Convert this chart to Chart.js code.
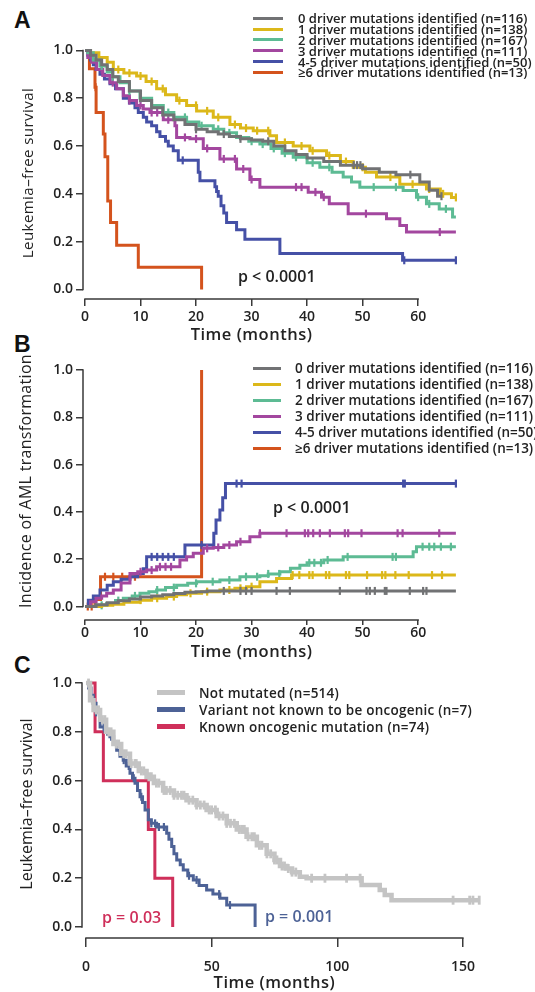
<!DOCTYPE html>
<html>
<head>
<meta charset="utf-8">
<script src="https://cdn.jsdelivr.net/npm/chart.js@4.4.1/dist/chart.umd.min.js"></script>
<style>
  body { margin: 0; background: #fff; width: 535px; height: 992px; position: relative; overflow: hidden; font-family: 'Open Sans', sans-serif; color: #222; }
  canvas { position: absolute; left: 0; }
  .tag { position: absolute; font: bold 23px 'Liberation Sans', Arial, sans-serif; color: #111; }
  .legend { position: absolute; font-weight: 600; color: #222; }
  .legend .row { display: flex; align-items: center; white-space: nowrap; }
  .legend .sw { display: inline-block; flex: none; }
  .pval { position: absolute; font-size: 16px; font-weight: 600; white-space: nowrap; line-height: 16px; }
  .xt { position: absolute; transform: translate(-50%, -50%); font-size: 16.5px; font-weight: 600; letter-spacing: 0.5px; white-space: nowrap; line-height: 20px; }
  .yt { position: absolute; transform: translate(-50%, -50%) rotate(-90deg); font-weight: 400; white-space: nowrap; line-height: 20px; }
</style>
</head>
<body>
<div class="tag" style="left:14px;top:7px">A</div>
<div class="tag" style="left:14px;top:331px">B</div>
<div class="tag" style="left:14px;top:652px">C</div>

<canvas id="chartA" width="535" height="345" style="top:0px"></canvas>
<canvas id="chartB" width="535" height="322" style="top:340px"></canvas>
<canvas id="chartC" width="535" height="332" style="top:660px"></canvas>

<div class="yt" style="left:27px;top:173px;font-size:15px;letter-spacing:0.45px">Leukemia&ndash;free survival</div>
<div class="yt" style="left:25px;top:481px;font-size:16px;letter-spacing:0.3px">Incidence of AML transformation</div>
<div class="yt" style="left:26px;top:804px;font-size:16px">Leukemia&ndash;free survival</div>

<div class="xt" id="xtA" style="top:334px">Time (months)</div>
<div class="xt" id="xtB" style="top:651px">Time (months)</div>
<div class="xt" id="xtC" style="top:982px">Time (months)</div>

<div class="legend" id="legA" style="left:253px;top:13px;font-size:13px"></div>
<div class="legend" id="legB" style="left:253px;top:360px;font-size:13.5px"></div>
<div class="legend" id="legC" style="left:157px;top:684px;font-size:13.5px;letter-spacing:0.25px"></div>

<div class="pval" style="left:238px;top:268px">p &lt; 0.0001</div>
<div class="pval" style="left:273px;top:499px">p &lt; 0.0001</div>
<div class="pval" style="left:102px;top:909px;color:#cf2f5a">p = 0.03</div>
<div class="pval" style="left:265px;top:908px;color:#4d6296">p = 0.001</div>

<script>
// ---- data ----
const driverLabels = [
  '0 driver mutations identified (n=116)',
  '1 driver mutations identified (n=138)',
  '2 driver mutations identified (n=167)',
  '3 driver mutations identified (n=111)',
  '4-5 driver mutations identified (n=50)',
  '\u22656 driver mutations identified (n=13)'
]
const driverColors = ['#717274', '#dcb81a', '#5dbb94', '#a3479f', '#4550a6', '#d4531d']

const monthTicks = [0, 10, 20, 30, 40, 50, 60]
const monthTicksC = [0, 50, 100, 150]
const probTicks = [0, 0.2, 0.4, 0.6, 0.8, 1.0]

// A: leukemia-free survival by number of driver mutations
const aTime0 = [0, 1, 2, 3, 4, 5, 6, 8, 10, 12, 14, 16, 18, 20, 22, 24, 26, 28, 30, 32, 34, 36, 38, 40, 43, 46, 50, 53, 56, 60.3, 62, 63.5]
const aSurv0 = [1, 0.98, 0.96, 0.94, 0.92, 0.89, 0.87, 0.83, 0.79, 0.76, 0.73, 0.71, 0.69, 0.67, 0.66, 0.65, 0.64, 0.63, 0.625, 0.62, 0.60, 0.58, 0.565, 0.55, 0.535, 0.52, 0.505, 0.49, 0.48, 0.45, 0.415, 0.39]
const aCens0 = [20, 25, 28, 33, 48.4, 49, 49.6, 58.6, 64.2]

const aTime1 = [0, 1, 2.5, 4, 5.1, 7, 9.3, 11, 12.9, 14.5, 16.5, 18.3, 20.1, 23.1, 26.1, 28, 30.3, 33.3, 34.5, 37.5, 40.5, 43.5, 46, 48.3, 50.5, 52.5, 56.7, 61.5, 64, 66]
const aSurv1 = [1, 0.99, 0.97, 0.95, 0.92, 0.905, 0.893, 0.87, 0.84, 0.815, 0.79, 0.77, 0.747, 0.72, 0.69, 0.675, 0.664, 0.643, 0.615, 0.6, 0.58, 0.56, 0.535, 0.511, 0.49, 0.47, 0.44, 0.42, 0.40, 0.385]
const aCens1 = [6, 8, 10, 12, 14, 17, 20, 22, 24, 27, 29, 31, 33, 36, 39, 41, 44, 47, 50, 55, 59, 62, 64.5, 66.8]

const aTime2 = [0, 0.5, 1.5, 2.7, 4, 5, 6.3, 8, 9.9, 12, 14.1, 16, 18.3, 20.5, 23.1, 25, 27.3, 29.5, 31.5, 33.5, 35.5, 37.5, 40, 42.3, 44.5, 46.5, 48, 49.5, 57.3, 59.7, 61.5, 63.8, 66.2]
const aSurv2 = [1, 0.99, 0.96, 0.935, 0.91, 0.89, 0.865, 0.83, 0.80, 0.77, 0.74, 0.72, 0.70, 0.685, 0.67, 0.655, 0.636, 0.62, 0.608, 0.59, 0.57, 0.553, 0.53, 0.511, 0.49, 0.47, 0.45, 0.428, 0.414, 0.386, 0.358, 0.337, 0.303]
const aCens2 = [3, 5, 8, 10, 12, 15, 18, 21, 24, 26, 30, 32, 34, 36, 38, 41, 44, 52, 56, 60, 62, 65]

const aTime3 = [0, 0.5, 1.2, 2.1, 3.2, 4.5, 5.7, 6.9, 8, 9.3, 10.5, 11.7, 14.1, 16.2, 16.5, 18.9, 21.3, 24.3, 27.3, 29.7, 31.5, 40.2, 42.6, 44, 47.4, 54.3, 56.7, 57.9]
const aSurv3 = [1, 0.97, 0.95, 0.92, 0.895, 0.865, 0.84, 0.81, 0.79, 0.77, 0.755, 0.74, 0.71, 0.685, 0.636, 0.63, 0.59, 0.546, 0.504, 0.46, 0.428, 0.407, 0.386, 0.358, 0.317, 0.296, 0.268, 0.24]
const aCens3 = [3, 5, 8, 10, 12, 13, 15, 18, 20, 22, 25, 27, 28.5, 30, 38, 39, 41.5, 43, 50.6, 63.9]

const aTime4 = [0, 0.5, 1, 1.5, 2, 2.7, 3.5, 4.5, 5.5, 6.9, 8, 9, 9.6, 10.5, 11.1, 12, 12.9, 13.5, 14.5, 15, 15.9, 16.8, 20.4, 20.7, 23.4, 23.7, 24, 24.5, 25, 25.5, 27.3, 28.8, 35.1, 57.2]
const aSurv4 = [1, 0.98, 0.96, 0.94, 0.92, 0.90, 0.88, 0.86, 0.84, 0.80, 0.78, 0.76, 0.74, 0.72, 0.70, 0.685, 0.66, 0.64, 0.62, 0.60, 0.58, 0.54, 0.49, 0.455, 0.43, 0.41, 0.39, 0.35, 0.32, 0.28, 0.25, 0.21, 0.15, 0.122]
const aCens4 = [17.6, 57.5, 66.8]

const aTime5 = [0, 0.8, 1.8, 2.0, 3.3, 3.6, 4.1, 4.6, 5.7, 9.6, 21]
const aSurv5 = [1, 0.923, 0.846, 0.74, 0.65, 0.555, 0.37, 0.28, 0.185, 0.093, 0]
const aCens5 = [1.9]

// B: cumulative incidence of AML transformation
const bTime0 = [0, 2, 4, 6, 8, 10, 12, 14, 16, 18, 20, 22]
const bInc0 = [0, 0.008, 0.016, 0.024, 0.032, 0.04, 0.045, 0.05, 0.055, 0.06, 0.063, 0.066]
const bCens0 = [25, 28, 29, 30, 34.5, 36.9, 45.9, 50.7, 51.3, 52.2, 54, 54.3, 58.5, 60.9, 61.5]

const bTime1 = [0, 3, 5, 7, 9.9, 12, 14.7, 16.5, 18.3, 21, 24.3, 27, 29.1, 31.5, 34.5, 37.2]
const bInc1 = [0, 0.005, 0.01, 0.018, 0.027, 0.035, 0.042, 0.05, 0.056, 0.063, 0.07, 0.077, 0.084, 0.105, 0.119, 0.133]
const bCens1 = [10, 13, 16, 19, 22, 26, 28, 30, 37.4, 38.6, 40.4, 41, 43.4, 44, 47, 47.6, 50.8, 53.5, 54.1, 55.9, 58.3, 62.5, 64.3]

const bTime2 = [0, 2, 3.9, 5.5, 6.9, 8.5, 9.9, 11.5, 12.9, 14.5, 16.5, 18.5, 20.1, 24.3, 27.9, 31.5, 33, 35.1, 37, 38.7, 40, 43, 46.5, 59.1, 59.7]
const bInc2 = [0, 0.005, 0.013, 0.025, 0.035, 0.045, 0.056, 0.063, 0.07, 0.08, 0.09, 0.098, 0.105, 0.112, 0.126, 0.13, 0.138, 0.147, 0.162, 0.175, 0.185, 0.197, 0.21, 0.232, 0.253]
const bCens2 = [3, 6, 9, 13, 16, 20, 23, 26, 29, 31, 33, 35, 40.4, 41.3, 42.5, 43.7, 47.3, 55.4, 56, 60.8, 62, 62.9, 64.1, 65.9]

const bTime3 = [0, 1, 2, 3, 3.9, 5.1, 6.5, 8.1, 9.5, 11.1, 12.9, 17.1, 18.3, 19.5, 21.3, 23.1, 25, 27.3, 29.7, 31.5]
const bInc3 = [0, 0.02, 0.035, 0.045, 0.056, 0.07, 0.1, 0.14, 0.147, 0.154, 0.168, 0.197, 0.21, 0.225, 0.246, 0.25, 0.26, 0.274, 0.295, 0.31]
const bCens3 = [10, 12, 13.5, 14.5, 15.5, 22, 24, 26, 28, 31.5, 36.3, 39.6, 40.2, 41.1, 42.3, 44.1, 46.8, 47.4, 49.8, 56.3, 57.2, 63.8]

const bTime4 = [0, 0.6, 1.5, 2.7, 4, 5.1, 6.5, 8.1, 9.5, 10.5, 11.1, 18, 23.2, 23.6, 24.3, 24.8, 25.3]
const bInc4 = [0, 0.027, 0.045, 0.07, 0.09, 0.105, 0.115, 0.126, 0.14, 0.16, 0.21, 0.26, 0.31, 0.366, 0.408, 0.46, 0.52]
const bCens4 = [12, 13, 14, 15, 16, 21, 27.3, 28.2, 57.3, 57.6, 66.8]

const bTime5 = [0, 1.8, 2.8, 21]
const bInc5 = [0, 0.03, 0.126, 1.0]
const bCens5 = [0.5, 1.2, 3.6, 5.1, 6.7, 9.0]

// C: leukemia-free survival by mutation status
const mutLabels = ['Not mutated (n=514)', 'Variant not known to be oncogenic (n=7)', 'Known oncogenic mutation (n=74)']
const mutColors = ['#c4c4c4', '#4d6296', '#cf2f5a']

const cTime0 = [0, 1.6, 3, 5.6, 8, 10.9, 14, 17.5, 21, 24.1, 27, 30.7, 35, 40, 44, 48, 52, 56, 60, 63.9, 68, 71.9, 75, 77.2, 79.8, 82, 85.1, 87.8, 109.7, 116.9, 118.9, 121.6]
const cSurv0 = [1, 0.93, 0.89, 0.85, 0.80, 0.75, 0.71, 0.67, 0.64, 0.616, 0.59, 0.56, 0.54, 0.52, 0.50, 0.48, 0.455, 0.425, 0.40, 0.37, 0.335, 0.30, 0.275, 0.25, 0.24, 0.225, 0.206, 0.2, 0.172, 0.152, 0.131, 0.11]
const cCens0 = [1, 2.5, 4, 5, 6.5, 7.5, 9, 10, 12, 13, 15, 16, 18, 19.5, 20, 22, 23, 25, 26, 28, 29, 31, 32, 33.5, 35, 36.5, 38, 39, 41, 42.5, 44, 45.5, 47, 49, 50, 51.5, 53, 54.5, 56, 57.5, 59, 61, 62, 63, 64.5, 66, 67, 69, 70, 72, 73.5, 75, 76, 78, 79, 80.5, 82, 83.5, 89.8, 95.1, 103.7, 109.1, 146.1, 152.7, 154, 156.5]

const cTime1 = [0, 1, 2, 2.9, 4, 5.6, 7.5, 9.5, 11, 12.2, 13.5, 14.8, 16, 17.5, 18.5, 19.5, 20.5, 21.5, 22.5, 23.5, 24.8, 26, 28.1, 32.1, 33, 34.1, 35, 36.1, 37.5, 38.7, 40.5, 42.7, 45, 48, 50.5, 53.3, 56, 67.3]
const cSurv1 = [1, 0.98, 0.95, 0.917, 0.88, 0.82, 0.80, 0.78, 0.75, 0.725, 0.70, 0.684, 0.66, 0.63, 0.61, 0.589, 0.56, 0.534, 0.51, 0.48, 0.44, 0.425, 0.41, 0.384, 0.36, 0.33, 0.30, 0.275, 0.255, 0.234, 0.21, 0.193, 0.17, 0.152, 0.135, 0.118, 0.09, 0]
const cCens1 = [4, 7, 8.5, 10, 12, 15, 17, 19, 22, 26, 27.5, 29, 31, 41, 44, 53, 57.3]

const cTime2 = [0, 3.6, 6.9, 24.8, 27.4, 34.5]
const cSurv2 = [1, 0.8, 0.6, 0.4, 0.2, 0]
// ---- end data ----

const axisColor = '#3a3a3a'
Chart.defaults.font.family = "'Open Sans', sans-serif"
Chart.defaults.color = '#222'

function stepAt(times, vals, t) {
  let v = vals[0]
  for (let i = 0; i < times.length; i++) if (times[i] <= t) v = vals[i]
  return v
}

// R style axes: line only from first to last tick
const rAxes = {
  id: 'rAxes',
  afterDraw(chart) {
    const { ctx, chartArea, scales: { x, y } } = chart
    ctx.save()
    ctx.strokeStyle = axisColor
    ctx.lineWidth = 1.5
    ctx.beginPath()
    ctx.moveTo(x.getPixelForValue(x.ticks[0].value) - 0.75, chartArea.bottom)
    ctx.lineTo(x.getPixelForValue(x.ticks[x.ticks.length - 1].value) + 0.75, chartArea.bottom)
    ctx.moveTo(chartArea.left, y.getPixelForValue(y.ticks[0].value) + 0.75)
    ctx.lineTo(chartArea.left, y.getPixelForValue(y.ticks[y.ticks.length - 1].value) - 0.75)
    ctx.stroke()
    ctx.restore()
  }
}

function kmPanel(id, o) {
  const datasets = []
  o.series.forEach(s => {
    const pts = s.t.map((t, i) => ({ x: t, y: s.v[i] }))
    if (s.end !== undefined) pts.push({ x: s.end, y: s.v[s.v.length - 1] })
    datasets.push({
      data: pts, borderColor: s.color, borderWidth: s.width, stepped: true,
      pointRadius: 0, pointHoverRadius: 0, fill: false
    })
    if (s.cens && s.cens.length) {
      datasets.push({
        data: s.cens.map(c => ({ x: c, y: stepAt(s.t, s.v, c) })),
        showLine: false, pointStyle: 'line', pointRotation: 90,
        pointRadius: s.mark || 4, pointHoverRadius: s.mark || 4,
        pointBorderWidth: s.markW || 2.2, pointBorderColor: s.color, borderColor: s.color
      })
    }
  })
  const H = document.getElementById(id).height
  return new Chart(document.getElementById(id), {
    type: 'line',
    data: { datasets },
    options: {
      responsive: false,
      animation: false,
      events: [],
      layout: { padding: { left: 0, top: o.top, right: 535 - o.right, bottom: 0 } },
      plugins: { legend: { display: false }, tooltip: { enabled: false } },
      scales: {
        x: {
          type: 'linear', min: o.xMin, max: o.xMax,
          afterBuildTicks: s => { s.ticks = o.xTicks.map(v => ({ value: v })) },
          afterFit: s => { s.height = H - o.bottom },
          grid: { drawOnChartArea: false, drawTicks: true, tickLength: o.xTickLen, color: axisColor, lineWidth: 1.5 },
          border: { display: false },
          ticks: { font: { size: 14, weight: '600' }, color: '#222', padding: o.xTickPad, maxRotation: 0, autoSkip: false }
        },
        y: {
          type: 'linear', min: o.yMin, max: o.yMax,
          afterBuildTicks: s => { s.ticks = probTicks.map(v => ({ value: v })) },
          afterFit: s => { s.width = o.left },
          grid: { drawOnChartArea: false, drawTicks: true, tickLength: 7, color: axisColor, lineWidth: 1.5 },
          border: { display: false },
          ticks: { font: { size: 14, weight: '600' }, color: '#222', padding: 3, callback: v => v.toFixed(1) }
        }
      }
    },
    plugins: [rAxes]
  })
}

// centre the HTML axis title under the drawn axis line
function placeXTitle(chart, elId) {
  const x = chart.scales.x
  const mid = (x.getPixelForValue(x.ticks[0].value) + x.getPixelForValue(x.ticks[x.ticks.length - 1].value)) / 2
  document.getElementById(elId).style.left = mid + 'px'
}

const A_END = 66.8
const chartA = kmPanel('chartA', {
  top: 43, bottom: 299, left: 83, right: 462,
  xMin: -0.36, xMax: 67.9, yMin: -0.04, yMax: 1.031,
  xTicks: monthTicks, xTickLen: 7, xTickPad: 3,
  series: [
    { t: aTime0, v: aSurv0, end: 64.2, cens: aCens0, color: driverColors[0], width: 3 },
    { t: aTime2, v: aSurv2, end: A_END, cens: aCens2, color: driverColors[2], width: 3 },
    { t: aTime1, v: aSurv1, end: A_END, cens: aCens1, color: driverColors[1], width: 3 },
    { t: aTime3, v: aSurv3, end: A_END, cens: aCens3, color: driverColors[3], width: 3 },
    { t: aTime4, v: aSurv4, end: A_END, cens: aCens4, color: driverColors[4], width: 3 },
    { t: aTime5, v: aSurv5, cens: aCens5, color: driverColors[5], width: 3 }
  ]
})
placeXTitle(chartA, 'xtA')

const chartB = kmPanel('chartB', {
  top: 23, bottom: 280, left: 83, right: 462,
  xMin: -0.36, xMax: 67.9, yMin: -0.057, yMax: 1.03,
  xTicks: monthTicks, xTickLen: 5, xTickPad: 0,
  series: [
    { t: bTime0, v: bInc0, end: A_END, cens: bCens0, color: driverColors[0], width: 3 },
    { t: bTime1, v: bInc1, end: A_END, cens: bCens1, color: driverColors[1], width: 3 },
    { t: bTime2, v: bInc2, end: A_END, cens: bCens2, color: driverColors[2], width: 3 },
    { t: bTime3, v: bInc3, end: A_END, cens: bCens3, color: driverColors[3], width: 3 },
    { t: bTime4, v: bInc4, end: A_END, cens: bCens4, color: driverColors[4], width: 3 },
    { t: bTime5, v: bInc5, cens: bCens5, color: driverColors[5], width: 3 }
  ]
})
placeXTitle(chartB, 'xtB')

const chartC = kmPanel('chartC', {
  top: 16, bottom: 278, left: 82, right: 485,
  xMin: -1.6, xMax: 158.8, yMin: -0.045, yMax: 1.029,
  xTicks: monthTicksC, xTickLen: 9, xTickPad: 12,
  series: [
    { t: cTime0, v: cSurv0, end: 156.7, cens: cCens0, color: mutColors[0], width: 4.5, mark: 4.5, markW: 2.8 },
    { t: cTime1, v: cSurv1, cens: cCens1, color: mutColors[1], width: 3 },
    { t: cTime2, v: cSurv2, color: mutColors[2], width: 3 }
  ]
})
placeXTitle(chartC, 'xtC')

// legends
function legend(id, labels, colors, rowH, swW, swH, gap) {
  const el = document.getElementById(id)
  labels.forEach((txt, i) => {
    const row = document.createElement('div')
    row.className = 'row'
    row.style.height = rowH + 'px'
    const sw = document.createElement('span')
    sw.className = 'sw'
    sw.style.width = swW + 'px'
    sw.style.height = swH + 'px'
    sw.style.background = colors[i]
    sw.style.marginRight = gap + 'px'
    row.appendChild(sw)
    row.appendChild(document.createTextNode(txt))
    el.appendChild(row)
  })
}
legend('legA', driverLabels, driverColors, 10.8, 30, 3, 15)
legend('legB', driverLabels, driverColors, 16, 28, 3, 14)
legend('legC', mutLabels, mutColors, 17, 28, 4.5, 14)
</script>
</body>
</html>
